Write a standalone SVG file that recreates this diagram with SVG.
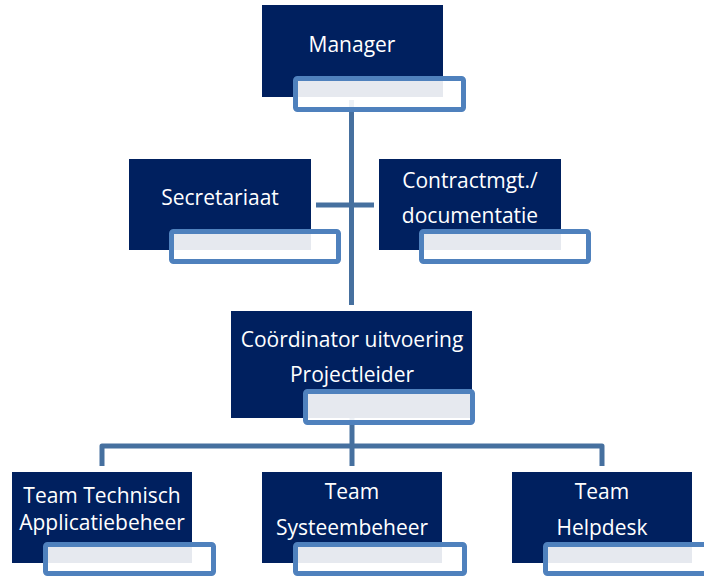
<svg xmlns="http://www.w3.org/2000/svg" width="704" height="576" viewBox="0 0 704 576">
<style>
.box{fill:#00205f;}
.ov{fill:#ffffff;fill-opacity:0.9;stroke:#4f81bd;stroke-width:5;}
.t{font-family:"Open Sans","Liberation Sans",sans-serif;font-size:21px;fill:#ffffff;text-anchor:middle;}
.c{fill:none;stroke:#46709f;stroke-width:5;stroke-linejoin:round;}
</style>
<rect width="704" height="576" fill="#ffffff"/>
<g id="connectors">
<line class="c" x1="351.5" y1="100" x2="351.5" y2="305"/>
<line class="c" x1="316" y1="205" x2="374" y2="205" stroke-width="4"/>
<line class="c" x1="352" y1="418" x2="352" y2="466"/>
<path class="c" d="M102,466 V446 H602 V466" stroke-width="4.5"/>
</g>
<g id="manager">
<rect class="box" x="262" y="5" width="181" height="92"/>
<text class="t" x="352" y="52">Manager</text>
<rect class="ov" x="295.5" y="78.5" width="168" height="31" rx="2"/>
</g>
<g id="secretariaat">
<rect class="box" x="129" y="159" width="182" height="91"/>
<text class="t" x="220" y="205">Secretariaat</text>
<rect class="ov" x="171.5" y="231.5" width="167" height="30" rx="2"/>
</g>
<g id="contract">
<rect class="box" x="379" y="159" width="182" height="91"/>
<text class="t" x="470" y="188">Contractmgt./</text>
<text class="t" x="470" y="223">documentatie</text>
<rect class="ov" x="421.5" y="231.5" width="167" height="30" rx="2"/>
</g>
<g id="coordinator">
<rect class="box" x="231" y="311" width="241" height="107"/>
<text class="t" x="352" y="347">Coördinator uitvoering</text>
<text class="t" x="352" y="382">Projectleider</text>
<rect class="ov" x="305.5" y="391.5" width="167" height="31" rx="2"/>
</g>
<g id="team-tab">
<rect class="box" x="12" y="472" width="180" height="91"/>
<text class="t" x="102" y="503">Team Technisch</text>
<text class="t" x="102" y="530">Applicatiebeheer</text>
<rect class="ov" x="45.5" y="544.5" width="168" height="29" rx="2"/>
</g>
<g id="team-systeembeheer">
<rect class="box" x="262" y="472" width="180" height="91"/>
<text class="t" x="352" y="499">Team</text>
<text class="t" x="352" y="535">Systeembeheer</text>
<rect class="ov" x="295.5" y="544.5" width="169" height="29" rx="2"/>
</g>
<g id="team-helpdesk">
<rect class="box" x="512" y="472" width="180" height="91"/>
<text class="t" x="602" y="499">Team</text>
<text class="t" x="602" y="535">Helpdesk</text>
<rect class="ov" x="545.5" y="544.5" width="168" height="29" rx="2"/>
</g>
</svg>
